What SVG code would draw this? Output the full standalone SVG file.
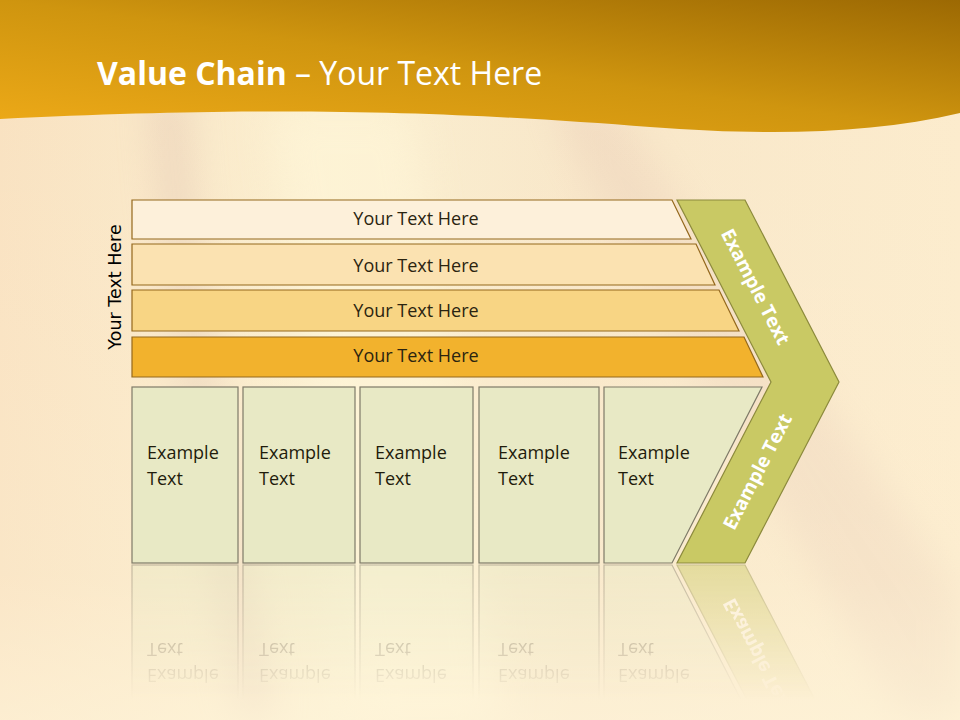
<svg xmlns="http://www.w3.org/2000/svg" xmlns:xlink="http://www.w3.org/1999/xlink" width="960" height="720" viewBox="0 0 960 720">
<defs>
<style>
.bar{stroke:#94681C;stroke-width:1.2}
.box{fill:#E8E9C5;stroke:#7E7A68;stroke-width:1.2}
.bt{font-family:"Open Sans","Noto Sans",sans-serif;font-size:18px;fill:#2B2410;text-anchor:middle}
.et{font-family:"Open Sans","Noto Sans",sans-serif;font-size:18px;fill:#1F1C0C}
.ct{font-family:"Open Sans","Noto Sans",sans-serif;font-size:19px;font-weight:bold;fill:#FFFFFF;text-anchor:middle}
</style>
<linearGradient id="hdr" x1="0" y1="1" x2="1" y2="0">
<stop offset="0" stop-color="#EEAA18"/>
<stop offset="0.5" stop-color="#CF950F"/>
<stop offset="1" stop-color="#9C6903"/>
</linearGradient>
<linearGradient id="bg" x1="0" y1="0" x2="1" y2="0">
<stop offset="0" stop-color="#F9E1C0"/>
<stop offset="0.35" stop-color="#FBEFD0"/>
<stop offset="0.6" stop-color="#F8E6C8"/>
<stop offset="1" stop-color="#FCEBCC"/>
</linearGradient>
<linearGradient id="bgv" x1="0" y1="0" x2="0" y2="1">
<stop offset="0" stop-color="#FFF6DC" stop-opacity="0"/>
<stop offset="0.8" stop-color="#FFF6DC" stop-opacity="0.25"/>
<stop offset="1" stop-color="#FFF6DC" stop-opacity="0.6"/>
</linearGradient>
<filter id="blur" x="-50%" y="-50%" width="200%" height="200%"><feGaussianBlur stdDeviation="18"/></filter>
<linearGradient id="fade" gradientUnits="userSpaceOnUse" x1="0" y1="565" x2="0" y2="700">
<stop offset="0" stop-color="#fff" stop-opacity="0.45"/>
<stop offset="1" stop-color="#fff" stop-opacity="0"/>
</linearGradient>
<mask id="refmask" maskUnits="userSpaceOnUse" x="0" y="560" width="960" height="160">
<rect x="0" y="560" width="960" height="160" fill="url(#fade)"/>
</mask>
</defs>

<g id="background">
<rect width="960" height="720" fill="url(#bg)"/>
<path d="M150,90 C165,300 195,500 240,720 L275,720 C235,500 200,300 185,90 Z" fill="#D6B4A6" opacity="0.35" filter="url(#blur)"/>
<path d="M550,100 C610,250 730,420 900,720 L960,720 L960,600 C830,400 700,240 610,100 Z" fill="#E3C2B0" opacity="0.3" filter="url(#blur)"/>
<path d="M270,110 C300,300 330,500 360,720 L500,720 C470,500 440,300 410,110 Z" fill="#FFF6D8" opacity="0.6" filter="url(#blur)"/>
<rect width="960" height="720" fill="url(#bgv)"/>
</g>

<g id="header">
<path d="M0,0 H960 V113 C870,134 770,136 650,127 C480,114 300,104 0,119 Z" fill="url(#hdr)"/>
<text x="97" y="85" font-family="'Open Sans','Noto Sans',sans-serif" font-size="32" fill="#FFFFFF"><tspan font-weight="bold">Value Chain</tspan> – Your Text Here</text>
</g>

<g id="side-label">
<text transform="translate(121,287) rotate(-90)" font-family="'DejaVu Sans',Verdana,sans-serif" font-size="17.5" fill="#000000" text-anchor="middle">Your Text Here</text>
</g>

<g id="bar1">
<polygon class="bar" points="132,200 672,200 691,239 132,239" fill="#FDF0DA"/>
<text class="bt" x="416" y="225">Your Text Here</text>
</g>
<g id="bar2">
<polygon class="bar" points="132,244 696,244 715,285 132,285" fill="#FBE2B1"/>
<text class="bt" x="416" y="272">Your Text Here</text>
</g>
<g id="bar3">
<polygon class="bar" points="132,290 719,290 739,331 132,331" fill="#F8D584"/>
<text class="bt" x="416" y="317">Your Text Here</text>
</g>
<g id="bar4">
<polygon class="bar" points="132,337 744,337 763,377 132,377" fill="#F2B22D"/>
<text class="bt" x="416" y="362">Your Text Here</text>
</g>

<g id="boxes">
<g id="box1">
<rect class="box" x="132" y="387" width="106" height="176"/>
<text class="et" x="147" y="459">Example</text>
<text class="et" x="147" y="485">Text</text>
</g>
<g id="box2">
<rect class="box" x="243" y="387" width="112" height="176"/>
<text class="et" x="259" y="459">Example</text>
<text class="et" x="259" y="485">Text</text>
</g>
<g id="box3">
<rect class="box" x="360" y="387" width="113" height="176"/>
<text class="et" x="375" y="459">Example</text>
<text class="et" x="375" y="485">Text</text>
</g>
<g id="box4">
<rect class="box" x="479" y="387" width="120" height="176"/>
<text class="et" x="498" y="459">Example</text>
<text class="et" x="498" y="485">Text</text>
</g>
<g id="box5">
<polygon class="box" points="604,387 762,387 672,563 604,563"/>
<text class="et" x="618" y="459">Example</text>
<text class="et" x="618" y="485">Text</text>
</g>
</g>

<g id="chevron">
<polygon points="677,200 745,200 839,382 745,563 677,563 771,382" fill="#C9C964" stroke="#8C8A3C" stroke-width="1.2"/>
<text class="ct" transform="translate(755,287) rotate(62.7)" dy="6">Example Text</text>
<text class="ct" transform="translate(758,472) rotate(-62.7)" dy="6">Example Text</text>
</g>

<g id="reflection" mask="url(#refmask)">
<g transform="translate(0,1128) scale(1,-1)">
<use xlink:href="#boxes"/>
<polygon points="745,563 677,563 771,382 839,382" fill="#C9C964" stroke="#8C8A3C" stroke-width="1.2"/>
<text class="ct" transform="translate(758,472) rotate(-62.7)" dy="6">Example Text</text>
</g>
</g>
</svg>
